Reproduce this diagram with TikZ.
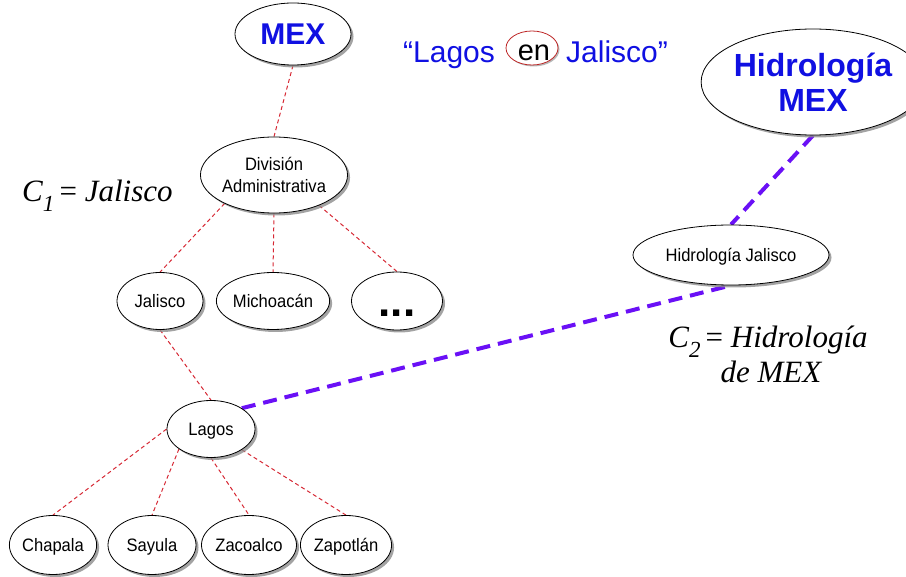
\documentclass[tikz,border=0pt]{standalone}
\usepackage{fontspec}
\setmainfont{Liberation Serif}
\setsansfont{Liberation Sans}
\newfontfamily\labelfont{Liberation Sans}[FakeStretch=0.92]
\usetikzlibrary{shapes.geometric,shadows,backgrounds}
\definecolor{linkred}{RGB}{214,40,52}
\definecolor{linkviolet}{RGB}{106,16,246}
\definecolor{titleblue}{RGB}{16,16,226}
\definecolor{ringred}{RGB}{190,40,40}
\tikzset{
  oval/.style={ellipse, draw=black, line width=0.8pt, fill=white, inner sep=0pt,
    drop shadow={shadow xshift=2.5pt, shadow yshift=-2.5pt, fill=black!45, opacity=0.8},
    font=\labelfont\fontsize{18}{22}\selectfont, align=center, text depth=0pt},
  tie/.style={draw=linkred, line width=1pt, dash pattern=on 4pt off 3pt},
  bridge/.style={draw=linkviolet, line width=4pt, dash pattern=on 14pt off 8pt},
  bigtext/.style={font=\sffamily\bfseries\fontsize{32}{35}\selectfont, text=titleblue},
  formula/.style={font=\fontsize{31}{34}\selectfont, inner sep=0pt},
}
\begin{document}
\begin{tikzpicture}[x=1pt,y=-1pt]
\useasboundingbox (0,0) rectangle (906,577);

% top nodes
\node[oval, minimum width=116pt, minimum height=62pt,
  font=\sffamily\bfseries\fontsize{30}{32}\selectfont, text=titleblue] (mex) at (293,34) {MEX};
\node[oval, minimum width=184pt, minimum height=106pt, bigtext] (hmex) at (813,82)
  {Hidrología\\MEX};

% title phrase
\node[anchor=base west, inner sep=0pt, font=\sffamily\fontsize{30}{34}\selectfont, text=titleblue]
  (qa) at (403,63) {“Lagos};
\node[ellipse, draw=ringred, line width=0.8pt, fill=white, minimum width=52pt, minimum height=34pt,
  drop shadow={shadow xshift=1.5pt, shadow yshift=-1.5pt, fill=black!40, opacity=0.7}]
  (ring) at (532,48) {};
\node[anchor=base, inner sep=0pt, font=\sffamily\fontsize{29}{34}\selectfont]
  (en) at (534,61) {en};
\node[anchor=base west, inner sep=0pt, font=\sffamily\fontsize{30}{34}\selectfont, text=titleblue]
  (qb) at (566,63) {Jalisco”};

% administrative tree
\node[oval, minimum width=138pt, minimum height=76pt] (div) at (274,175)
  {División\\Administrativa};
\node[oval, minimum width=86pt, minimum height=57pt] (jal) at (160,301) {Jalisco};
\node[oval, minimum width=98pt, minimum height=57pt] (mich) at (273,301) {Michoacán};
\node[oval, minimum width=91pt, minimum height=58pt,
  font=\sffamily\bfseries\fontsize{44}{46}\selectfont] (dots) at (397,301) {...\vphantom{A}};
\node[oval, minimum width=88pt, minimum height=57pt] (lagos) at (211,429) {Lagos};
\node[oval, minimum width=87pt, minimum height=59pt] (chap) at (53,545) {Chapala};
\node[oval, minimum width=88pt, minimum height=59pt] (say) at (152,545) {Sayula};
\node[oval, minimum width=88pt, minimum height=59pt] (zac) at (249,545) {Zacoalco};
\node[oval, minimum width=88pt, minimum height=59pt] (zap) at (346,545) {Zapotlán};

% hydrology branch
\node[oval, minimum width=196pt, minimum height=60pt] (hj) at (731,255) {Hidrología Jalisco};

% contexts
\node[formula, anchor=base west] (c1) at (22,202)
  {\itshape C\raisebox{-0.3em}{\fontsize{23}{23}\selectfont 1}\,\upshape=\ \itshape Jalisco};
\node[formula, anchor=base] (c2a) at (768,348)
  {\itshape C\raisebox{-0.3em}{\fontsize{23}{23}\selectfont 2}\,\upshape=\ \itshape Hidrología};
\node[formula, anchor=base] (c2b) at (771,383) {\itshape de MEX};

% connectors
\begin{scope}[on background layer]
  \draw[tie] (mex.south) -- (div.north);
  \draw[tie] (div.210) -- (jal.north);
  \draw[tie] (div.south) -- (mich.north);
  \draw[tie] (div.-34) -- (dots.north);
  \draw[tie] (jal.south) -- (lagos.north);
  \draw[tie] (lagos.west) -- (chap.north);
  \draw[tie] (lagos.212) -- (say.north);
  \draw[tie] (lagos.south) -- (zac.north);
  \draw[tie] (lagos.-34) -- (zap.north);
  \draw[bridge] (hmex.south) -- (hj.north);
  \draw[bridge] (lagos.34) -- (hj.south);
\end{scope}
\end{tikzpicture}
\end{document}
